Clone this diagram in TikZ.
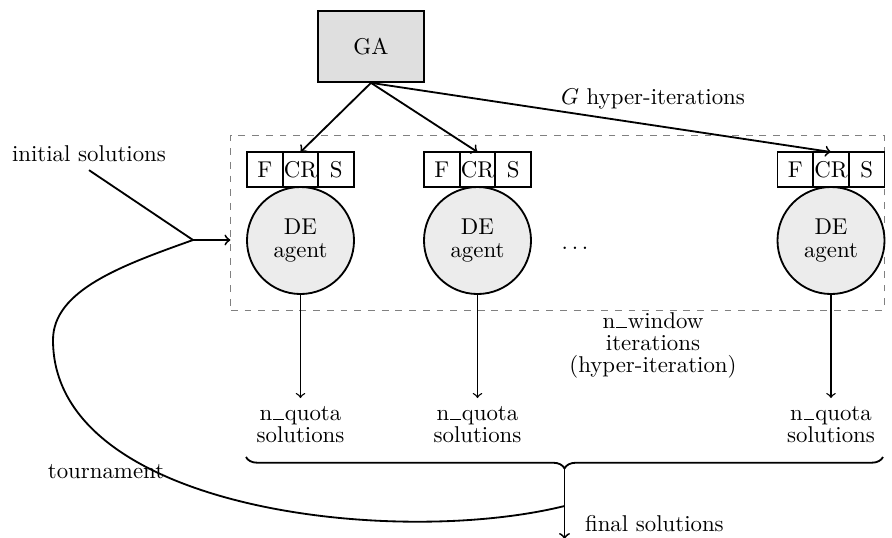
\documentclass[tikz,border=0pt]{standalone}
\usetikzlibrary{decorations.pathreplacing}
% underscore sitting on the baseline
\newcommand\uscore{\leavevmode\kern.04em\vbox{\hrule width.46em}\kern.04em}
\begin{document}
\begin{tikzpicture}[x=0.015385cm, y=-0.015385cm,
  gabox/.style={draw, thick, fill=gray!25, minimum width=1.63cm, minimum height=1.09cm},
  parambox/.style={draw, thick, minimum width=0.549cm, minimum height=0.538cm,
                   inner sep=0pt, outer sep=0pt},
  agent/.style={circle, draw, thick, fill=gray!15, minimum size=1.646cm, inner sep=0pt,
                align=center, font=\fontsize{10pt}{10pt}\selectfont},
  window/.style={draw=gray, dashed, minimum width=10.046cm, minimum height=2.692cm},
  txt/.style={align=center, font=\fontsize{10pt}{9.6pt}\selectfont},
  flow/.style={->, thick},
  bracedeco/.style={thick, decorate, decoration={brace, mirror, amplitude=5pt}}]

\useasboundingbox (0,0) rectangle (892,537);

% genetic algorithm on top
\node[gabox] (ga) at (371,46.5) {GA};

% window of one hyper-iteration
\node[window] (win) at (557.5,222.5) {};

% DE agents with their parameter boxes
\foreach \i/\x in {1/300.5, 2/477.5, 3/831}{
  \node[parambox] (cr\i) at (\x,169.5) {CR};
  \node[parambox, anchor=east] (f\i) at (cr\i.west) {F};
  \node[parambox, anchor=west] (s\i) at (cr\i.east) {S};
  \node[agent] (de\i) at (\x,240.5) {DE\\agent};
  \node[txt, anchor=north] (q\i) at (\x,398) {n\uscore quota\\solutions};
  \draw[flow] (ga.south) -- (cr\i.north);
  \draw[->, semithick] (de\i.south) -- (q\i.north);
}

\node (dots) at (575,248) {$\dots$};
\node (hyper) at (653,99) {$G$ hyper-iterations};
\node[txt] (nwin) at (653,345) {n\uscore window\\iterations\\(hyper-iteration)};

% collecting the solutions
\coordinate (bl) at (246,457);
\coordinate (br) at (883,457);
\coordinate (btip) at (564.5,469);
\coordinate (split) at (564.5,506);
\coordinate (out) at (564.5,539);
\draw[bracedeco] (bl) -- (br);
\draw[flow] (btip) -- (out);
\node[anchor=west] (final) at (577,524) {final solutions};

% feedback loop and initial solutions
\node (init) at (89,154) {initial solutions};
\coordinate (join) at (193,240);
\node (tour) at (106,472) {tournament};
\draw[thick] (split) .. controls (395,548) and (53,510) .. (53,340)
             .. controls (53,290) and (123,265) .. (join);
\draw[thick] (init.south) -- (join);
\draw[flow] (join) -- (win.west |- join);
\end{tikzpicture}
\end{document}
